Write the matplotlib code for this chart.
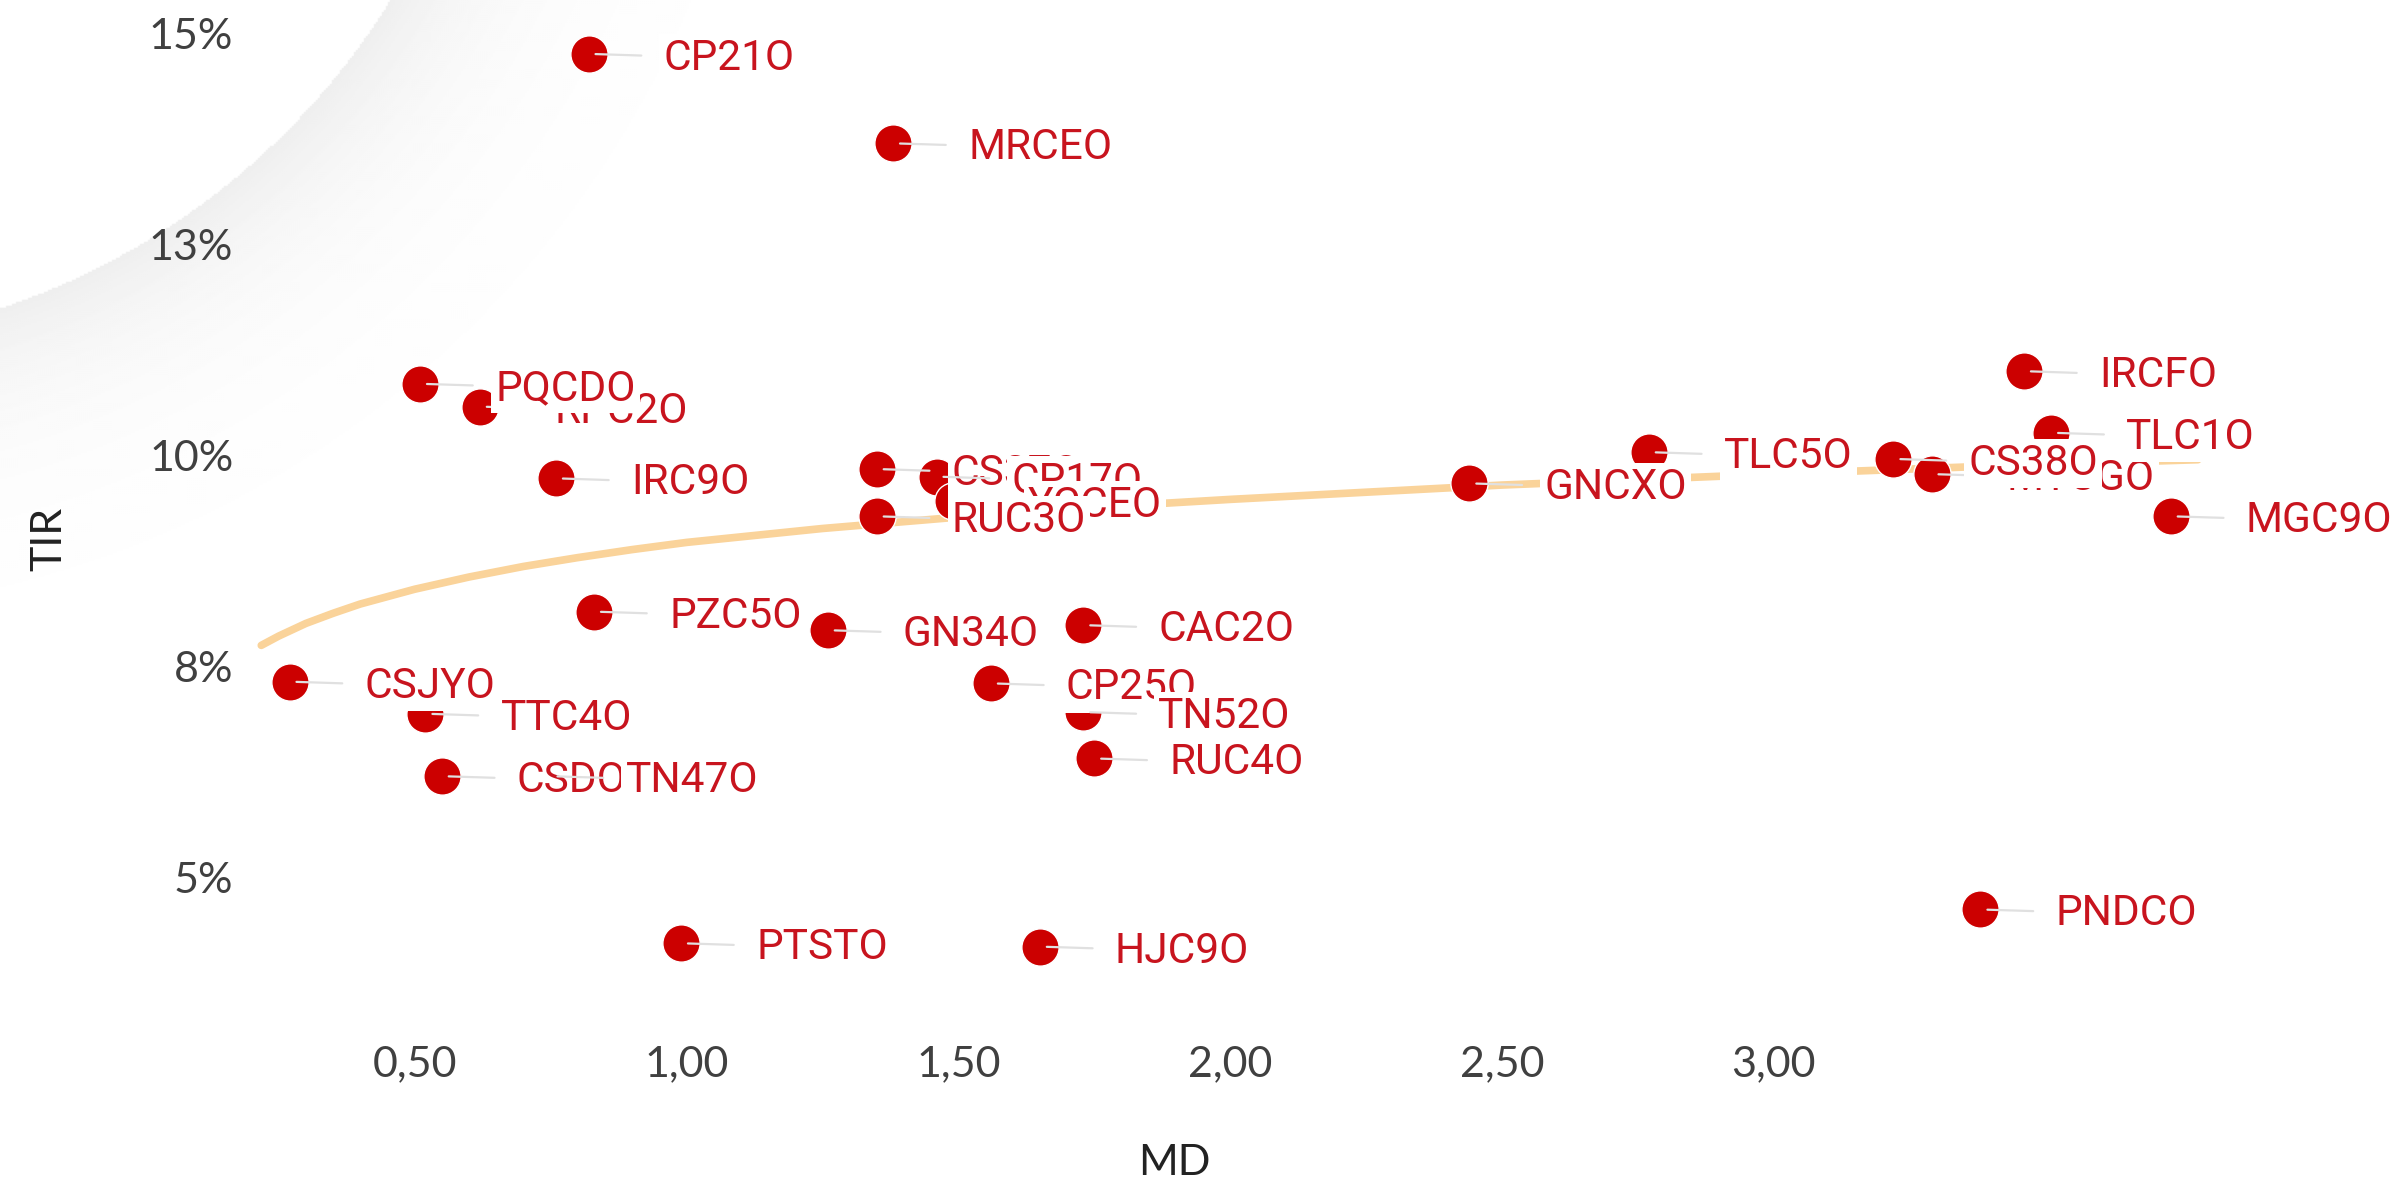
import numpy as np
import matplotlib.pyplot as plt

# bonds: name, modified duration (MD), yield (TIR, %)
names = ['CP21O', 'MRCEO', 'RPC2O', 'PQCDO', 'IRC9O', 'CS37O', 'CP17O', 'YCCEO',
         'RUC3O', 'PZC5O', 'GN34O', 'CAC2O', 'CSJYO', 'TTC4O', 'CP25O', 'TN52O',
         'RUC4O', 'CSDOO', 'TN47O', 'PTSTO', 'HJC9O', 'GNCXO', 'TLC5O', 'MTCGO',
         'CS38O', 'TLC1O', 'IRCFO', 'MGC9O', 'PNDCO']
md = [0.82, 1.38, 0.62, 0.51, 0.76, 1.35, 1.46, 1.49,
      1.35, 0.83, 1.26, 1.73, 0.27, 0.52, 1.56, 1.73,
      1.75, 0.55, 0.75, 0.99, 1.65, 2.44, 2.77, 3.29,
      3.22, 3.51, 3.46, 3.73, 3.38]
tir = [14.76, 13.70, 10.58, 10.85, 9.73, 9.84, 9.75, 9.46,
       9.28, 8.15, 7.93, 7.99, 7.32, 6.94, 7.30, 6.96,
       6.41, 6.20, 6.20, 4.22, 4.18, 9.67, 10.04, 9.78,
       9.96, 10.27, 11.00, 9.28, 4.62]

# trend line
trend_md = [0.218, 0.25, 0.30, 0.35, 0.40, 0.50, 0.60, 0.70, 0.80, 0.90, 1.00,
            1.25, 1.50, 1.75, 2.00, 2.50, 3.00, 3.40, 3.78]
trend_tir = [7.75, 7.86, 8.01, 8.13, 8.24, 8.415, 8.56, 8.685, 8.79, 8.885, 8.97,
             9.135, 9.27, 9.385, 9.48, 9.65, 9.78, 9.875, 9.95]

x_ticks = [0.5, 1.0, 1.5, 2.0, 2.5, 3.0]
x_tick_labels = ['0,50', '1,00', '1,50', '2,00', '2,50', '3,00']
y_ticks = [5, 7.5, 10, 12.5, 15]
y_tick_labels = ['5%', '8%', '10%', '13%', '15%']

red = '#CC0000'
label_red = '#C8141E'

W, H = 2401, 1185
fig = plt.figure(figsize=(W / 100, H / 100), dpi=100)

# faint grey shadow arc in the top left corner
bg = fig.add_axes([0, 0, 1, 1], zorder=0)
yy, xx = np.mgrid[0:H:2, 0:W:2]
d = np.hypot(xx + 231, yy + 385)
shade = np.where(d > 730, 1 - 0.065 * np.exp(-(d - 730) / 95), 1.0)
bg.imshow(shade, cmap='gray', vmin=0, vmax=1, extent=(0, W, H, 0), aspect='auto')
bg.axis('off')

ax = fig.add_axes([224.3 / W, 1 - 1002.3 / H, (2245.8 - 224.3) / W, 994 / H], zorder=1)
ax.patch.set_alpha(0)

ax.plot(trend_md, trend_tir, color='#FAD39A', lw=5.5, solid_capstyle='round',
        solid_joinstyle='round', zorder=2)
ax.scatter(md, tir, s=720, color=red, edgecolor='white', linewidth=1.0, zorder=3)

for n, x, y in zip(names, md, tir):
    ax.annotate(n, xy=(x, y), xytext=(54, 0), textcoords='offset points',
                ha='left', va='center_baseline', fontsize=30.5, color=label_red,
                family='Roboto', zorder=4, annotation_clip=False,
                bbox=dict(boxstyle='square,pad=0.1', fc='white', ec='none'),
                arrowprops=dict(arrowstyle='-', color='#e0e0e0', lw=1.6,
                                shrinkA=13, shrinkB=5))

ax.set_xlim(0.15, 3.868)
ax.set_ylim(3.52, 15.3)
ax.set_xticks(x_ticks)
ax.set_xticklabels(x_tick_labels)
ax.set_yticks(y_ticks)
ax.set_yticklabels(y_tick_labels)
ax.tick_params(axis='both', length=0, labelsize=31, labelcolor='#404040')
ax.tick_params(axis='y', pad=-6.5)
ax.tick_params(axis='x', pad=31)
for lab in ax.get_xticklabels() + ax.get_yticklabels():
    lab.set_family('Lato')
for s in ax.spines.values():
    s.set_visible(False)

ax.set_xlabel('MD', fontsize=31, family='Lato', color='#222222')
ax.set_ylabel('TIR', fontsize=31, family='Lato', color='#222222')
ax.xaxis.set_label_coords(0.47, -0.143)
ax.yaxis.set_label_coords(-0.077, 0.466)

fig.savefig('out.png', dpi=100)
